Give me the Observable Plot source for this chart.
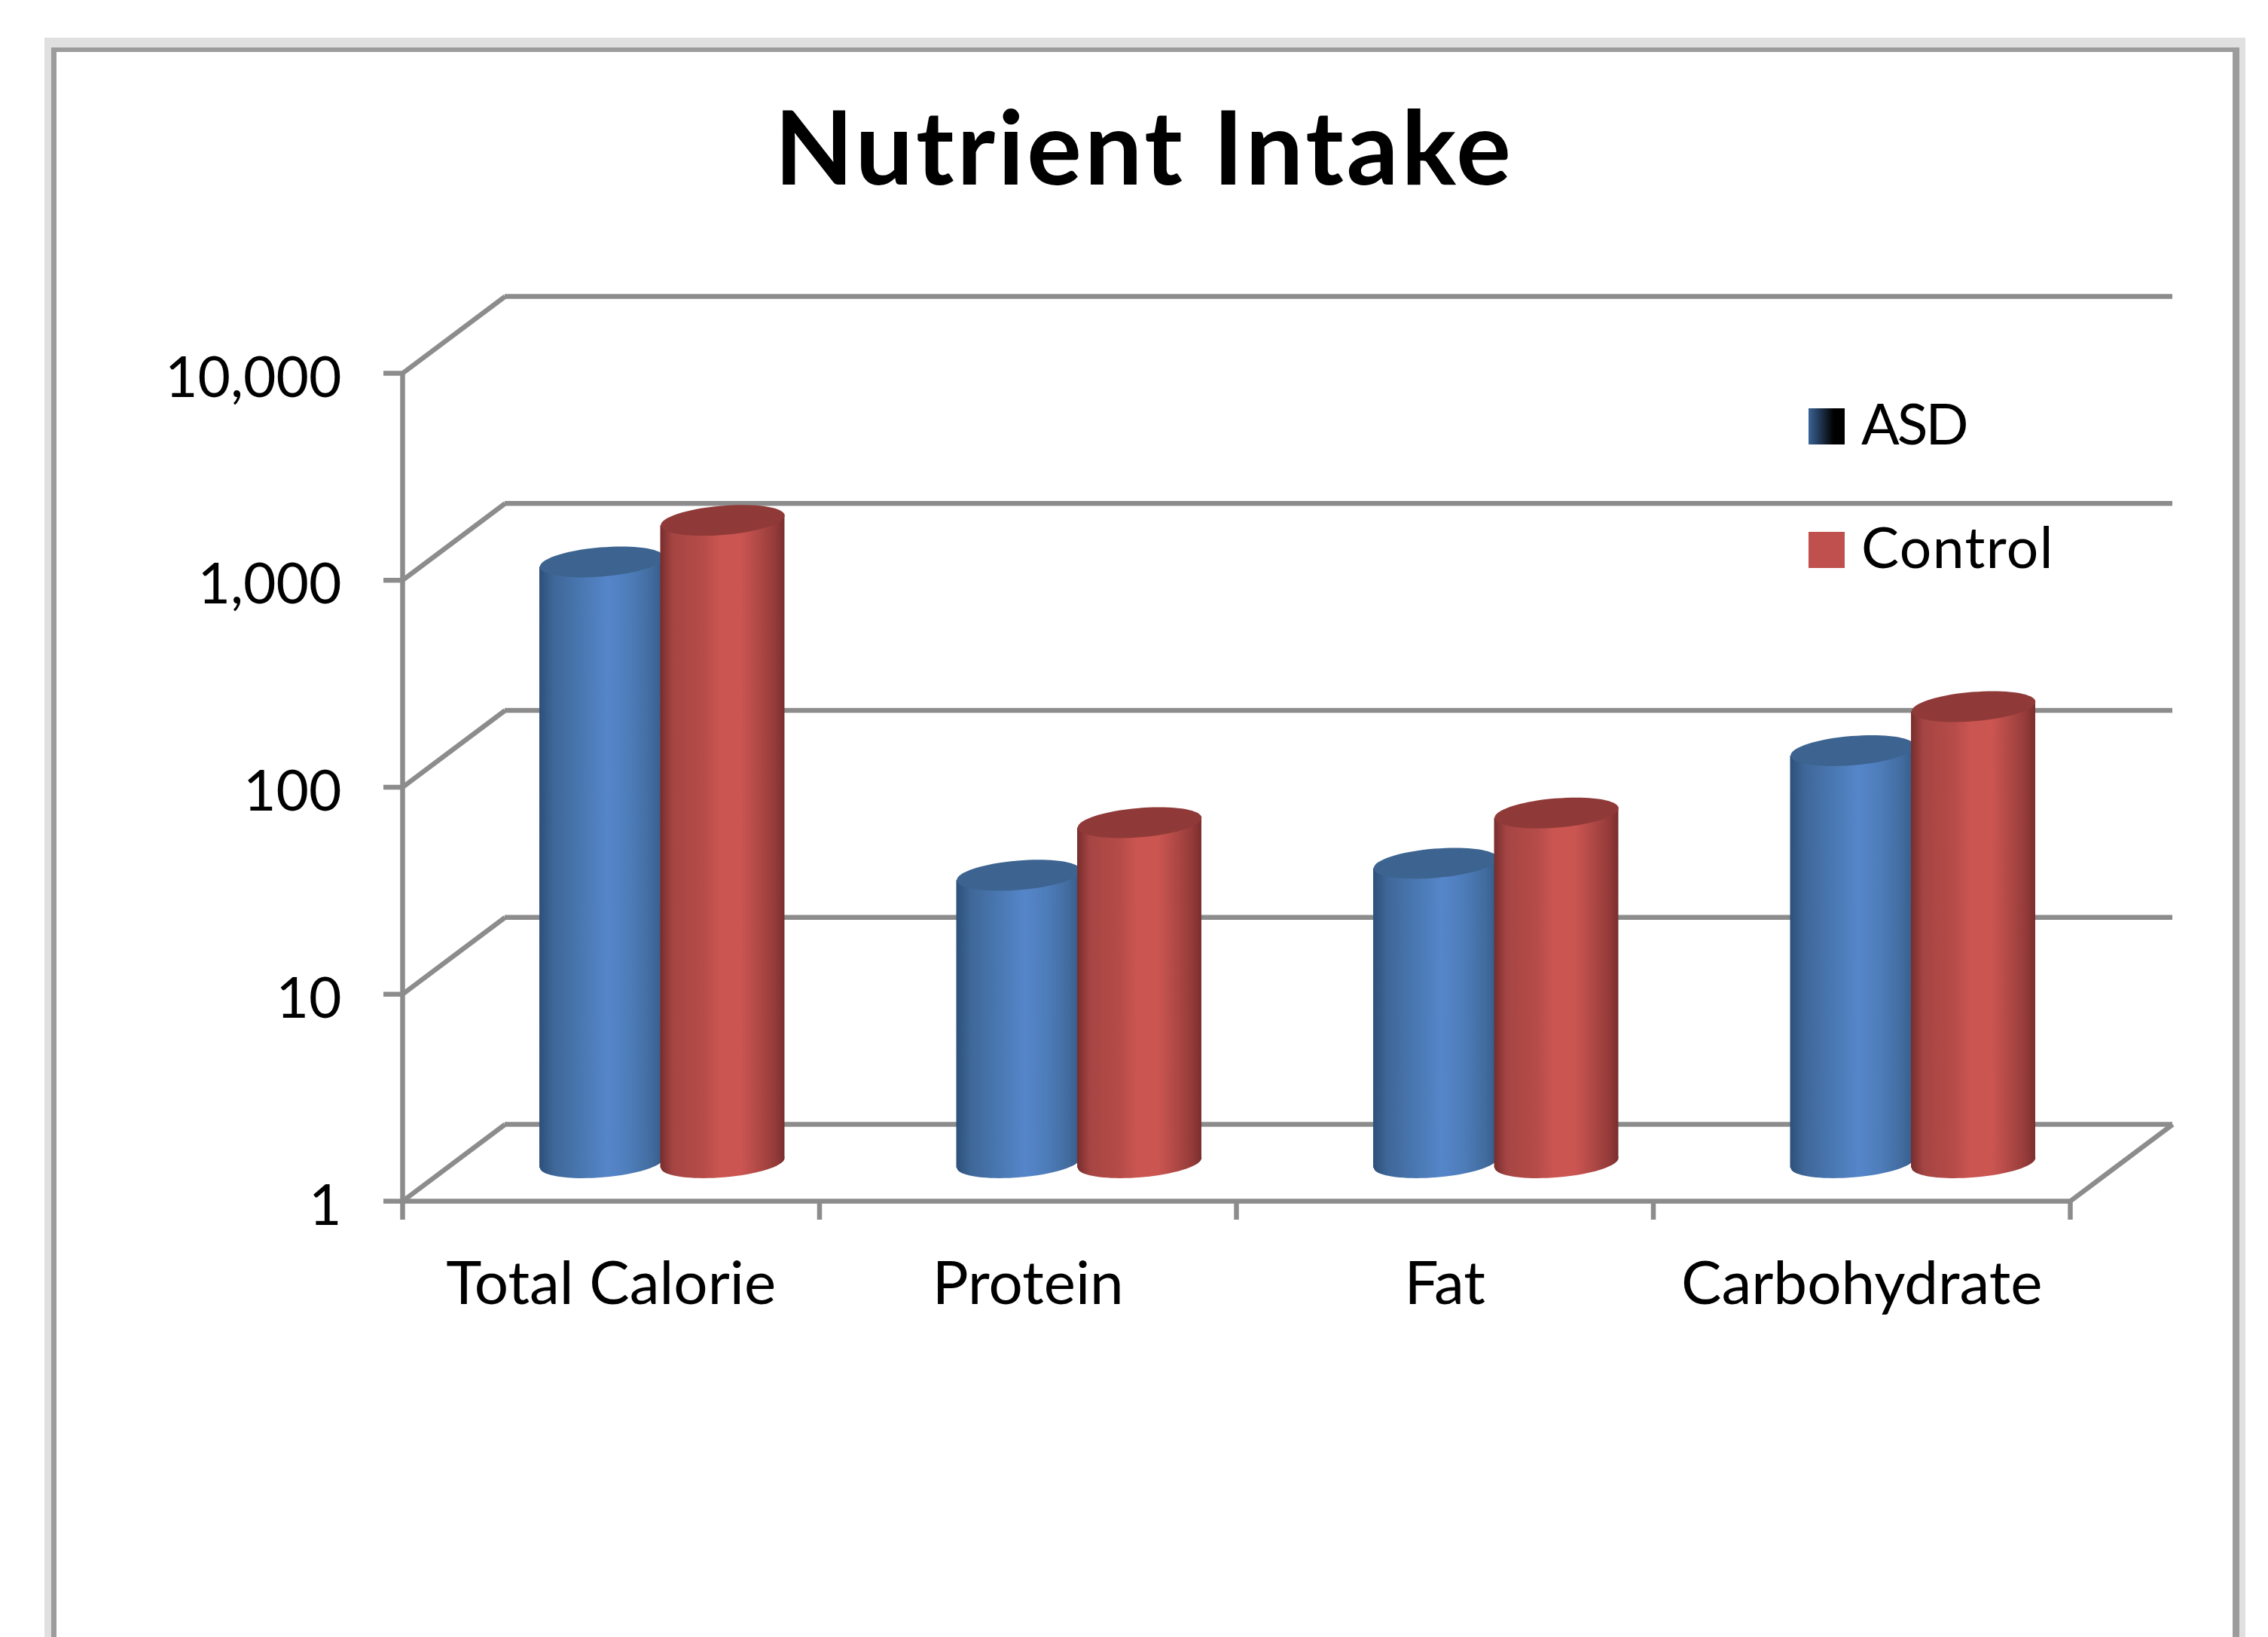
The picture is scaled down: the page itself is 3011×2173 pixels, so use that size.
<!DOCTYPE html>
<html>
<head>
<meta charset="utf-8">
<script src="https://cdn.jsdelivr.net/npm/d3@7"></script>
<script src="https://cdn.jsdelivr.net/npm/@observablehq/plot@0.6"></script>
<style>
  html, body { margin: 0; background: #fff; overflow: hidden; }
  body { width: 3011px; height: 2173px; position: relative; font-family: Lato, sans-serif; color: #000; }
  #frame { position: absolute; left: 59px; top: 50px; width: 2922px; height: 2300px; box-sizing: border-box;
           border: solid #e0e0e0; border-width: 13px 8px 13px 9px; }
  #frame::after { content: ""; position: absolute; inset: 0; border: solid #9c9c9c; border-width: 6px 9px 6px 7px; }
  #title { position: absolute; left: 0; width: 3038px; top: 108px; margin: 0; text-align: center; letter-spacing: 3.8px;
           font: 700 136px/170px Lato, sans-serif; }
  #chart { position: absolute; left: 0; top: 0; }
  .key { position: absolute; left: 2401px; display: flex; align-items: center; font: 75px/90px Lato, sans-serif; }
  .key i { display: block; width: 48px; height: 48px; margin-right: 22px; transform: translateY(5px); }
</style>
</head>
<body>
<div id="frame"></div>
<h1 id="title">Nutrient Intake</h1>
<div id="chart"></div>
<div class="key" style="top:516px;letter-spacing:-3px"><i style="background:linear-gradient(90deg,#3a6496,#000 70%)"></i>ASD</div>
<div class="key" style="top:680px;letter-spacing:1.4px"><i style="background:#c0504d"></i>Control</div>
<script>
const categories = ["Total Calorie", "Protein", "Fat", "Carbohydrate"];
const asdValues = [800, 24.5, 28, 98];
const controlValues = [1270, 44, 49, 160];
const yTicks = [1, 10, 100, 1000, 10000];
const xBoundaries = [0, 1, 2, 3, 4];

const depthX = 0.2457;   // how far the back wall sits to the right, in category widths
const depthY = 2.35;     // and how far up, as a factor on the log axis
const midY = Math.sqrt(depthY);
const tilt = 1.06;
const halfWidth = 0.149;
const offset = 0.145;
const gridColor = "#8c8c8c";

const series = [
  {name: "ASD", values: asdValues, side: -1, body: "url(#asdBody)", top: "#3d6490"},
  {name: "Control", values: controlValues, side: 1, body: "url(#controlBody)", top: "#8f3a38"}
];

const ellipseCap = {
  draw(ctx, size) {
    const rx = Math.sqrt(size / Math.PI), ry = rx * 0.235, a = -0.083, k = 0.5523;
    const P = (x, y) => [x * Math.cos(a) - y * Math.sin(a), x * Math.sin(a) + y * Math.cos(a)];
    ctx.moveTo(...P(rx, 0));
    ctx.bezierCurveTo(...P(rx, k * ry), ...P(k * rx, ry), ...P(0, ry));
    ctx.bezierCurveTo(...P(-k * rx, ry), ...P(-rx, k * ry), ...P(-rx, 0));
    ctx.bezierCurveTo(...P(-rx, -k * ry), ...P(-k * rx, -ry), ...P(0, -ry));
    ctx.bezierCurveTo(...P(k * rx, -ry), ...P(rx, -k * ry), ...P(rx, 0));
    ctx.closePath();
  }
};

const gradients = () => {
  const defs = d3.create("svg:defs");
  const add = (id, stops) => {
    const g = defs.append("linearGradient").attr("id", id);
    stops.forEach(([o, c]) => g.append("stop").attr("offset", o).attr("stop-color", c));
  };
  add("asdBody", [[0, "#2d507a"], [0.12, "#3f6899"], [0.35, "#4a78b2"], [0.55, "#5586ca"], [0.72, "#4e7dbb"], [0.9, "#426c9f"], [1, "#345a88"]]);
  add("controlBody", [[0, "#772d2d"], [0.1, "#a54543"], [0.35, "#b64c49"], [0.48, "#cb5551"], [0.65, "#cb5551"], [0.8, "#ae4845"], [0.93, "#933a39"], [1, "#792e2e"]]);
  return defs.node();
};

function cylinderMarks(s) {
  const rows = categories.map((c, i) => ({
    id: c, cx: i + 0.5 + depthX / 2 + s.side * offset, top: s.values[i] * midY
  }));
  const sides = rows.flatMap(r => [
    {id: r.id, x: r.cx - halfWidth, base: midY / tilt, top: r.top / tilt},
    {id: r.id, x: r.cx + halfWidth, base: midY * tilt, top: r.top * tilt}
  ]);
  return [
    Plot.dot(rows, {x: "cx", y: () => midY, r: 82.5, symbol: ellipseCap, fill: s.body}),
    Plot.area(sides, {x1: "x", y1: "base", y2: "top", z: "id", fill: s.body}),
    Plot.dot(rows, {x: "cx", y: "top", r: 82.5, symbol: ellipseCap, fill: s.top})
  ];
}

const lineStyle = {stroke: gridColor, strokeWidth: 6.5};

const chart = Plot.plot({
  width: 3011,
  height: 1800,
  marginLeft: 534,
  marginRight: 263,
  marginTop: 495,
  marginBottom: 206,
  style: {fontFamily: "Lato, sans-serif", fontSize: "75px", color: "#000", background: "transparent", overflow: "visible"},
  x: {type: "linear", domain: [0, 4]},
  y: {type: "log", domain: [1, 10000]},
  marks: [
    gradients,
    Plot.ruleY(yTicks, {y: d => d * depthY, x1: depthX, x2: 4 + depthX, ...lineStyle}),
    Plot.link(yTicks, {x1: 0, x2: depthX, y1: d => d, y2: d => d * depthY, ...lineStyle}),
    Plot.link([1], {x1: 4, x2: 4 + depthX, y1: d => d, y2: d => d * depthY, ...lineStyle}),
    ...series.flatMap(cylinderMarks),
    Plot.ruleX([0], {y1: 1, y2: 10000, ...lineStyle}),
    Plot.ruleY([1], {x1: 0, x2: 4, ...lineStyle}),
    Plot.axisY({ticks: yTicks, tickSize: 25, label: null, ...lineStyle, fill: "none"}),
    Plot.axisY({ticks: yTicks, tickFormat: ",", tickSize: 0, tickPadding: 81, dy: 7, label: null, fill: "#000"}),
    Plot.axisX({ticks: xBoundaries, tickSize: 25, label: null, ...lineStyle, fill: "none"}),
    Plot.axisX({ticks: categories.map((c, i) => i + 0.5), tickFormat: d => categories[d - 0.5], tickSize: 0, tickPadding: 80, fontSize: 80, label: null, fill: "#000"})
  ]
});
document.getElementById("chart").appendChild(chart);
</script>
</body>
</html>
